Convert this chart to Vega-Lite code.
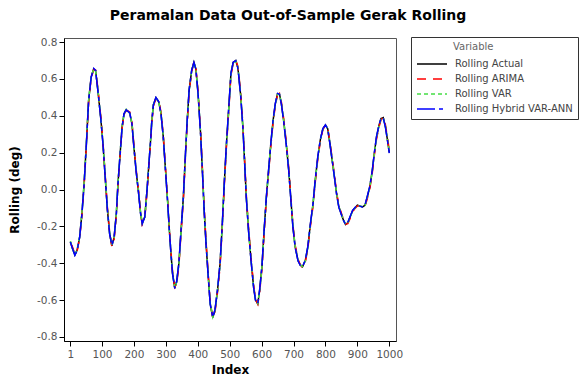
{
  "$schema": "https://vega.github.io/schema/vega-lite/v6.json",
  "width": 332,
  "height": 303,
  "autosize": {"type": "none"},
  "padding": {"left": 64, "top": 38, "right": 184, "bottom": 36},
  "background": "white",
  "title": {
    "text": "Peramalan Data Out-of-Sample Gerak Rolling",
    "font": "DejaVu Sans",
    "fontSize": 14,
    "fontWeight": "bold",
    "color": "black",
    "anchor": "middle",
    "frame": "group",
    "dx": 58,
    "offset": 14
  },
  "config": {
    "font": "DejaVu Sans",
    "view": {"stroke": "#555", "strokeWidth": 1},
    "axis": {
      "grid": false,
      "domainColor": "black",
      "tickColor": "black",
      "tickSize": 5,
      "labelColor": "#555",
      "labelFont": "DejaVu Sans",
      "labelFontSize": 10.5,
      "titleFont": "DejaVu Sans",
      "titleFontSize": 12,
      "titleFontWeight": "bold",
      "titleColor": "black"
    },
    "legend": {
      "orient": "none",
      "legendX": 347,
      "legendY": -1,
      "strokeColor": "#333",
      "padding": 5,
      "symbolType": "M-1,0H5",
      "symbolSize": 100,
      "symbolStrokeWidth": 1.3,
      "rowPadding": 4,
      "labelFont": "DejaVu Sans",
      "labelFontSize": 10,
      "labelColor": "#444",
      "labelOffset": 27,
      "labelLimit": 200,
      "titleFont": "DejaVu Sans",
      "titleFontSize": 10,
      "titleFontWeight": "normal",
      "titleColor": "#666",
      "titlePadding": 6
    }
  },
  "data": {
    "values": [
      {"i": 1, "a": -0.285, "r": -0.29, "v": -0.28, "h": -0.285},
      {"i": 7, "a": -0.315, "r": -0.31, "v": -0.32, "h": -0.318},
      {"i": 15, "a": -0.355, "r": -0.35, "v": -0.352, "h": -0.357},
      {"i": 22, "a": -0.33, "r": -0.335, "v": -0.328, "h": -0.332},
      {"i": 30, "a": -0.26, "r": -0.265, "v": -0.255, "h": -0.258},
      {"i": 37, "a": -0.135, "r": -0.14, "v": -0.13, "h": -0.137},
      {"i": 44, "a": 0.03, "r": 0.02, "v": 0.035, "h": 0.028},
      {"i": 51, "a": 0.245, "r": 0.235, "v": 0.25, "h": 0.243},
      {"i": 58, "a": 0.48, "r": 0.47, "v": 0.482, "h": 0.478},
      {"i": 66, "a": 0.61, "r": 0.605, "v": 0.612, "h": 0.608},
      {"i": 74, "a": 0.655, "r": 0.65, "v": 0.653, "h": 0.657},
      {"i": 80, "a": 0.645, "r": 0.648, "v": 0.642, "h": 0.646},
      {"i": 87, "a": 0.54, "r": 0.55, "v": 0.545, "h": 0.538},
      {"i": 96, "a": 0.39, "r": 0.4, "v": 0.392, "h": 0.388},
      {"i": 103, "a": 0.25, "r": 0.26, "v": 0.255, "h": 0.248},
      {"i": 110, "a": 0.07, "r": 0.08, "v": 0.072, "h": 0.068},
      {"i": 117, "a": -0.11, "r": -0.1, "v": -0.105, "h": -0.112},
      {"i": 124, "a": -0.24, "r": -0.232, "v": -0.238, "h": -0.242},
      {"i": 131, "a": -0.305, "r": -0.31, "v": -0.3, "h": -0.303},
      {"i": 138, "a": -0.26, "r": -0.27, "v": -0.262, "h": -0.258},
      {"i": 145, "a": -0.13, "r": -0.14, "v": -0.128, "h": -0.132},
      {"i": 150, "a": 0.03, "r": 0.02, "v": 0.032, "h": 0.028},
      {"i": 156, "a": 0.175, "r": 0.165, "v": 0.178, "h": 0.172},
      {"i": 163, "a": 0.34, "r": 0.332, "v": 0.342, "h": 0.338},
      {"i": 169, "a": 0.41, "r": 0.405, "v": 0.408, "h": 0.412},
      {"i": 176, "a": 0.433, "r": 0.43, "v": 0.435, "h": 0.432},
      {"i": 187, "a": 0.415, "r": 0.42, "v": 0.413, "h": 0.416},
      {"i": 194, "a": 0.355, "r": 0.362, "v": 0.357, "h": 0.353},
      {"i": 200, "a": 0.23, "r": 0.24, "v": 0.232, "h": 0.228},
      {"i": 207, "a": 0.1, "r": 0.11, "v": 0.103, "h": 0.098},
      {"i": 215, "a": -0.025, "r": -0.015, "v": -0.022, "h": -0.027},
      {"i": 221, "a": -0.13, "r": -0.122, "v": -0.128, "h": -0.132},
      {"i": 226, "a": -0.185, "r": -0.19, "v": -0.183, "h": -0.186},
      {"i": 234, "a": -0.15, "r": -0.158, "v": -0.152, "h": -0.148},
      {"i": 241, "a": -0.005, "r": -0.015, "v": -0.003, "h": -0.007},
      {"i": 247, "a": 0.14, "r": 0.13, "v": 0.142, "h": 0.138},
      {"i": 252, "a": 0.26, "r": 0.25, "v": 0.262, "h": 0.258},
      {"i": 256, "a": 0.37, "r": 0.36, "v": 0.372, "h": 0.368},
      {"i": 261, "a": 0.46, "r": 0.452, "v": 0.462, "h": 0.458},
      {"i": 269, "a": 0.498, "r": 0.495, "v": 0.496, "h": 0.5},
      {"i": 278, "a": 0.475, "r": 0.48, "v": 0.473, "h": 0.476},
      {"i": 285, "a": 0.41, "r": 0.418, "v": 0.412, "h": 0.408},
      {"i": 292, "a": 0.285, "r": 0.295, "v": 0.288, "h": 0.283},
      {"i": 299, "a": 0.105, "r": 0.115, "v": 0.108, "h": 0.102},
      {"i": 306, "a": -0.075, "r": -0.065, "v": -0.072, "h": -0.078},
      {"i": 311, "a": -0.22, "r": -0.21, "v": -0.218, "h": -0.222},
      {"i": 316, "a": -0.345, "r": -0.335, "v": -0.342, "h": -0.347},
      {"i": 321, "a": -0.455, "r": -0.447, "v": -0.452, "h": -0.457},
      {"i": 328, "a": -0.535, "r": -0.53, "v": -0.533, "h": -0.537},
      {"i": 334, "a": -0.5, "r": -0.51, "v": -0.502, "h": -0.498},
      {"i": 341, "a": -0.4, "r": -0.412, "v": -0.403, "h": -0.397},
      {"i": 347, "a": -0.24, "r": -0.252, "v": -0.243, "h": -0.237},
      {"i": 355, "a": -0.04, "r": -0.052, "v": -0.043, "h": -0.037},
      {"i": 361, "a": 0.175, "r": 0.163, "v": 0.172, "h": 0.178},
      {"i": 367, "a": 0.375, "r": 0.363, "v": 0.372, "h": 0.378},
      {"i": 373, "a": 0.54, "r": 0.53, "v": 0.537, "h": 0.542},
      {"i": 381, "a": 0.645, "r": 0.64, "v": 0.643, "h": 0.647},
      {"i": 388, "a": 0.69, "r": 0.692, "v": 0.688, "h": 0.689},
      {"i": 394, "a": 0.655, "r": 0.662, "v": 0.657, "h": 0.653},
      {"i": 401, "a": 0.52, "r": 0.532, "v": 0.523, "h": 0.518},
      {"i": 409, "a": 0.3, "r": 0.312, "v": 0.303, "h": 0.297},
      {"i": 415, "a": 0.085, "r": 0.097, "v": 0.088, "h": 0.082},
      {"i": 420, "a": -0.11, "r": -0.098, "v": -0.107, "h": -0.113},
      {"i": 426, "a": -0.295, "r": -0.283, "v": -0.292, "h": -0.298},
      {"i": 433, "a": -0.475, "r": -0.465, "v": -0.472, "h": -0.478},
      {"i": 439, "a": -0.62, "r": -0.612, "v": -0.617, "h": -0.622},
      {"i": 447, "a": -0.695, "r": -0.697, "v": -0.692, "h": -0.694},
      {"i": 454, "a": -0.655, "r": -0.665, "v": -0.658, "h": -0.652},
      {"i": 462, "a": -0.545, "r": -0.557, "v": -0.548, "h": -0.542},
      {"i": 470, "a": -0.4, "r": -0.413, "v": -0.403, "h": -0.397},
      {"i": 477, "a": -0.185, "r": -0.198, "v": -0.188, "h": -0.182},
      {"i": 483, "a": 0.03, "r": 0.017, "v": 0.027, "h": 0.033},
      {"i": 490, "a": 0.25, "r": 0.237, "v": 0.247, "h": 0.253},
      {"i": 498, "a": 0.465, "r": 0.453, "v": 0.462, "h": 0.468},
      {"i": 504, "a": 0.63, "r": 0.62, "v": 0.627, "h": 0.632},
      {"i": 511, "a": 0.69, "r": 0.685, "v": 0.688, "h": 0.691},
      {"i": 519, "a": 0.7, "r": 0.702, "v": 0.698, "h": 0.699},
      {"i": 525, "a": 0.665, "r": 0.672, "v": 0.667, "h": 0.663},
      {"i": 528, "a": 0.625, "r": 0.635, "v": 0.628, "h": 0.622},
      {"i": 535, "a": 0.5, "r": 0.512, "v": 0.503, "h": 0.497},
      {"i": 542, "a": 0.32, "r": 0.333, "v": 0.323, "h": 0.317},
      {"i": 547, "a": 0.14, "r": 0.153, "v": 0.143, "h": 0.137},
      {"i": 552, "a": -0.04, "r": -0.027, "v": -0.037, "h": -0.043},
      {"i": 559, "a": -0.22, "r": -0.207, "v": -0.217, "h": -0.223},
      {"i": 567, "a": -0.385, "r": -0.373, "v": -0.382, "h": -0.388},
      {"i": 575, "a": -0.53, "r": -0.52, "v": -0.527, "h": -0.532},
      {"i": 581, "a": -0.6, "r": -0.595, "v": -0.598, "h": -0.602},
      {"i": 588, "a": -0.62, "r": -0.622, "v": -0.618, "h": -0.619},
      {"i": 594, "a": -0.545, "r": -0.555, "v": -0.548, "h": -0.542},
      {"i": 601, "a": -0.42, "r": -0.432, "v": -0.423, "h": -0.417},
      {"i": 608, "a": -0.22, "r": -0.233, "v": -0.223, "h": -0.217},
      {"i": 615, "a": -0.04, "r": -0.053, "v": -0.043, "h": -0.037},
      {"i": 622, "a": 0.105, "r": 0.093, "v": 0.102, "h": 0.108},
      {"i": 629, "a": 0.25, "r": 0.238, "v": 0.247, "h": 0.253},
      {"i": 636, "a": 0.375, "r": 0.364, "v": 0.372, "h": 0.378},
      {"i": 643, "a": 0.465, "r": 0.456, "v": 0.462, "h": 0.467},
      {"i": 650, "a": 0.52, "r": 0.515, "v": 0.518, "h": 0.521},
      {"i": 656, "a": 0.518, "r": 0.522, "v": 0.516, "h": 0.517},
      {"i": 662, "a": 0.465, "r": 0.474, "v": 0.467, "h": 0.463},
      {"i": 669, "a": 0.375, "r": 0.386, "v": 0.378, "h": 0.372},
      {"i": 677, "a": 0.25, "r": 0.262, "v": 0.253, "h": 0.247},
      {"i": 685, "a": 0.105, "r": 0.117, "v": 0.108, "h": 0.102},
      {"i": 692, "a": -0.06, "r": -0.048, "v": -0.057, "h": -0.063},
      {"i": 698, "a": -0.2, "r": -0.19, "v": -0.197, "h": -0.203},
      {"i": 705, "a": -0.31, "r": -0.301, "v": -0.307, "h": -0.312},
      {"i": 714, "a": -0.385, "r": -0.378, "v": -0.383, "h": -0.387},
      {"i": 721, "a": -0.41, "r": -0.407, "v": -0.408, "h": -0.411},
      {"i": 728, "a": -0.42, "r": -0.423, "v": -0.418, "h": -0.419},
      {"i": 737, "a": -0.385, "r": -0.393, "v": -0.387, "h": -0.383},
      {"i": 745, "a": -0.31, "r": -0.32, "v": -0.313, "h": -0.307},
      {"i": 752, "a": -0.2, "r": -0.211, "v": -0.203, "h": -0.197},
      {"i": 761, "a": -0.08, "r": -0.091, "v": -0.083, "h": -0.077},
      {"i": 768, "a": 0.05, "r": 0.039, "v": 0.047, "h": 0.053},
      {"i": 776, "a": 0.175, "r": 0.165, "v": 0.172, "h": 0.178},
      {"i": 784, "a": 0.27, "r": 0.262, "v": 0.268, "h": 0.272},
      {"i": 792, "a": 0.33, "r": 0.325, "v": 0.328, "h": 0.331},
      {"i": 800, "a": 0.35, "r": 0.349, "v": 0.348, "h": 0.35},
      {"i": 807, "a": 0.33, "r": 0.336, "v": 0.332, "h": 0.329},
      {"i": 814, "a": 0.25, "r": 0.259, "v": 0.253, "h": 0.248},
      {"i": 821, "a": 0.16, "r": 0.17, "v": 0.163, "h": 0.158},
      {"i": 828, "a": 0.07, "r": 0.08, "v": 0.073, "h": 0.068},
      {"i": 835, "a": -0.025, "r": -0.015, "v": -0.022, "h": -0.027},
      {"i": 842, "a": -0.095, "r": -0.087, "v": -0.092, "h": -0.097},
      {"i": 849, "a": -0.13, "r": -0.124, "v": -0.128, "h": -0.132},
      {"i": 856, "a": -0.165, "r": -0.16, "v": -0.163, "h": -0.166},
      {"i": 863, "a": -0.19, "r": -0.188, "v": -0.188, "h": -0.19},
      {"i": 870, "a": -0.18, "r": -0.185, "v": -0.182, "h": -0.179},
      {"i": 877, "a": -0.15, "r": -0.158, "v": -0.152, "h": -0.148},
      {"i": 885, "a": -0.115, "r": -0.122, "v": -0.117, "h": -0.113},
      {"i": 892, "a": -0.1, "r": -0.104, "v": -0.101, "h": -0.099},
      {"i": 900, "a": -0.085, "r": -0.089, "v": -0.087, "h": -0.084},
      {"i": 908, "a": -0.09, "r": -0.088, "v": -0.089, "h": -0.09},
      {"i": 916, "a": -0.095, "r": -0.093, "v": -0.094, "h": -0.095},
      {"i": 924, "a": -0.085, "r": -0.09, "v": -0.087, "h": -0.084},
      {"i": 931, "a": -0.04, "r": -0.05, "v": -0.043, "h": -0.037},
      {"i": 939, "a": 0.015, "r": 0.004, "v": 0.012, "h": 0.018},
      {"i": 947, "a": 0.105, "r": 0.094, "v": 0.102, "h": 0.108},
      {"i": 953, "a": 0.195, "r": 0.184, "v": 0.192, "h": 0.198},
      {"i": 960, "a": 0.285, "r": 0.274, "v": 0.282, "h": 0.288},
      {"i": 968, "a": 0.35, "r": 0.341, "v": 0.347, "h": 0.352},
      {"i": 974, "a": 0.385, "r": 0.378, "v": 0.383, "h": 0.386},
      {"i": 981, "a": 0.39, "r": 0.392, "v": 0.388, "h": 0.389},
      {"i": 988, "a": 0.34, "r": 0.35, "v": 0.343, "h": 0.337},
      {"i": 995, "a": 0.26, "r": 0.272, "v": 0.263, "h": 0.257},
      {"i": 1000, "a": 0.2, "r": 0.213, "v": 0.204, "h": 0.197}
    ]
  },
  "transform": [{"fold": ["a", "r", "v", "h"], "as": ["series", "value"]}],
  "mark": {"type": "line", "strokeWidth": 1.5},
  "encoding": {
    "x": {
      "field": "i",
      "type": "quantitative",
      "scale": {"domain": [-19, 1021], "nice": false, "zero": false},
      "axis": {
        "title": "Index",
        "values": [1, 100, 200, 300, 400, 500, 600, 700, 800, 900, 1000],
        "format": "d",
        "labelPadding": 3,
        "titlePadding": 5
      }
    },
    "y": {
      "field": "value",
      "type": "quantitative",
      "scale": {"domain": [-0.822, 0.822], "nice": false, "zero": false},
      "axis": {
        "title": "Rolling (deg)",
        "values": [-0.8, -0.6, -0.4, -0.2, 0, 0.2, 0.4, 0.6, 0.8],
        "labelExpr": "replace(format(datum.value, '.1f'), '\u2212', '-')",
        "labelPadding": 2,
        "titlePadding": 15
      }
    },
    "color": {
      "field": "series",
      "type": "nominal",
      "scale": {
        "domain": ["a", "r", "v", "h"],
        "range": ["#000000", "#FF0000", "#44DD44", "#0000FF"]
      },
      "legend": {
        "title": "Variable",
        "labelExpr": "datum.label == 'a' ? 'Rolling Actual' : datum.label == 'r' ? 'Rolling ARIMA' : datum.label == 'v' ? 'Rolling VAR' : 'Rolling Hybrid VAR-ANN'",
        "encode": {"title": {"update": {"dx": {"value": 37}}}}
      }
    },
    "strokeDash": {
      "field": "series",
      "type": "nominal",
      "scale": {
        "domain": ["a", "r", "v", "h"],
        "range": [[1, 0], [9, 7], [4, 3], [18, 4, 4, 4]]
      },
      "legend": {
        "title": "Variable",
        "labelExpr": "datum.label == 'a' ? 'Rolling Actual' : datum.label == 'r' ? 'Rolling ARIMA' : datum.label == 'v' ? 'Rolling VAR' : 'Rolling Hybrid VAR-ANN'",
        "encode": {"title": {"update": {"dx": {"value": 37}}}}
      }
    }
  }
}
